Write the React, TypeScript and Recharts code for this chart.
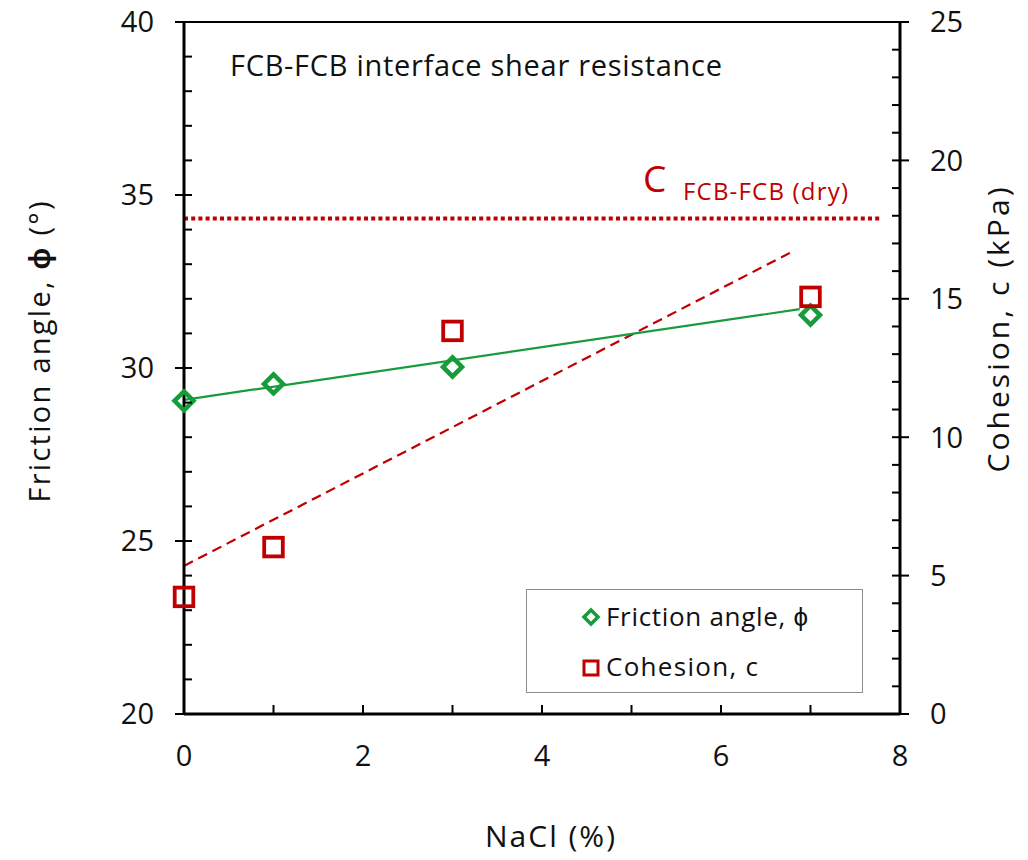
import React from 'react';
import {
  ComposedChart,
  Line,
  Scatter,
  XAxis,
  YAxis,
  ReferenceLine,
} from 'recharts';

// measured points
const nacl = [0, 1, 3, 7];
const frictionAngle = [29.05, 29.54, 30.03, 31.53];
const cohesion = [4.23, 6.03, 13.84, 15.07];

// trend lines (end points)
const frictionFitX = [0, 6.88];
const frictionFitY = [29.08, 31.7];
const cohesionFitX = [0, 6.83];
const cohesionFitY = [5.35, 16.76];

// dry reference cohesion
const dryCohesionX = [0, 7.8];
const dryCohesion = 17.9;

const xTicks = [0, 1, 2, 3, 4, 5, 6, 7, 8];
const leftTicks = [20, 21, 22, 23, 24, 25, 26, 27, 28, 29, 30, 31, 32, 33, 34, 35, 36, 37, 38, 39, 40];
const rightTicks = [0, 1, 2, 3, 4, 5, 6, 7, 8, 9, 10, 11, 12, 13, 14, 15, 16, 17, 18, 19, 20, 21, 22, 23, 24, 25];

const GREEN = '#179B3B';
const RED = '#C00000';
const FONT = '"Open Sans", sans-serif';
const TICK_SIZE = 8;
const TICK_MARGIN = 22;
const X_TICK_MARGIN = 34;

const frictionPts = nacl.map((x, i) => ({ x, y: frictionAngle[i] }));
const cohesionPts = nacl.map((x, i) => ({ x, y: cohesion[i] }));
const frictionFit = frictionFitX.map((x, i) => ({ x, y: frictionFitY[i] }));
const cohesionFit = cohesionFitX.map((x, i) => ({ x, y: cohesionFitY[i] }));
const dryLine = dryCohesionX.map((x) => ({ x, y: dryCohesion }));

function LeftTick(props: any) {
  const { x, y, payload } = props;
  const axisX = x + TICK_SIZE + TICK_MARGIN;
  const major = payload.value % 5 === 0;
  return (
    <g>
      <line x1={axisX} x2={axisX + 8} y1={y} y2={y} stroke="#000" strokeWidth={2} />
      {major && (
        <>
          <line x1={axisX - 9} x2={axisX} y1={y} y2={y} stroke="#000" strokeWidth={2} />
          <text x={x} y={y} dy="0.36em" textAnchor="end" fontSize={29} fill="#111" fontFamily={FONT}>
            {payload.value}
          </text>
        </>
      )}
    </g>
  );
}

function RightTick(props: any) {
  const { x, y, payload } = props;
  const axisX = x - TICK_SIZE - TICK_MARGIN;
  const major = payload.value % 5 === 0;
  return (
    <g>
      <line x1={axisX - 8} x2={axisX} y1={y} y2={y} stroke="#000" strokeWidth={2} />
      {major && (
        <>
          <line x1={axisX} x2={axisX + 9} y1={y} y2={y} stroke="#000" strokeWidth={2} />
          <text x={x} y={y} dy="0.36em" textAnchor="start" fontSize={29} fill="#111" fontFamily={FONT}>
            {payload.value}
          </text>
        </>
      )}
    </g>
  );
}

function BottomTick(props: any) {
  const { x, y, payload } = props;
  const axisY = y - TICK_SIZE - X_TICK_MARGIN;
  return (
    <g>
      <line x1={x} x2={x} y1={axisY - 9} y2={axisY} stroke="#000" strokeWidth={2} />
      {payload.value % 2 === 0 && (
        <text x={x} y={y} dy="0.36em" textAnchor="middle" fontSize={29} fill="#111" fontFamily={FONT}>
          {payload.value}
        </text>
      )}
    </g>
  );
}

function Diamond(props: any) {
  const { cx, cy } = props;
  const r = 9.5;
  return (
    <path
      d={`M${cx},${cy - r}L${cx + r},${cy}L${cx},${cy + r}L${cx - r},${cy}Z`}
      fill="none"
      stroke={GREEN}
      strokeWidth={4.5}
    />
  );
}

function Square(props: any) {
  const { cx, cy } = props;
  const h = 9.3;
  return <rect x={cx - h} y={cy - h} width={2 * h} height={2 * h} fill="none" stroke={RED} strokeWidth={3.8} />;
}

// the wrapper cancels the body margin so chart pixels equal page pixels
export default function App() {
  return (
    <div style={{ position: 'relative', width: 1028, height: 860, margin: '-8px 0 0 -8px', fontFamily: FONT }}>
      <ComposedChart width={1028} height={860} margin={{ top: 22, right: 28, bottom: 86, left: 84 }}>
        <XAxis
          type="number"
          dataKey="x"
          domain={[0, 8]}
          ticks={xTicks}
          interval={0}
          height={60}
          tickSize={TICK_SIZE}
          tickMargin={X_TICK_MARGIN}
          tickLine={false}
          axisLine={{ stroke: '#000', strokeWidth: 3 }}
          tick={BottomTick}
        />
        <YAxis
          yAxisId="left"
          type="number"
          domain={[20, 40]}
          ticks={leftTicks}
          interval={0}
          width={100}
          tickSize={TICK_SIZE}
          tickMargin={TICK_MARGIN}
          tickLine={false}
          axisLine={{ stroke: '#000', strokeWidth: 3 }}
          tick={LeftTick}
          allowDataOverflow
        />
        <YAxis
          yAxisId="right"
          orientation="right"
          type="number"
          domain={[0, 25]}
          ticks={rightTicks}
          interval={0}
          width={100}
          tickSize={TICK_SIZE}
          tickMargin={TICK_MARGIN}
          tickLine={false}
          axisLine={{ stroke: '#000', strokeWidth: 3 }}
          tick={RightTick}
          allowDataOverflow
        />
        <ReferenceLine yAxisId="left" y={40} stroke="#000" strokeWidth={2} />

        <Line
          yAxisId="right"
          data={dryLine}
          dataKey="y"
          stroke={RED}
          strokeWidth={4}
          strokeDasharray="4 3.2"
          dot={false}
          activeDot={false}
          isAnimationActive={false}
        />
        <Line
          yAxisId="right"
          data={cohesionFit}
          dataKey="y"
          stroke={RED}
          strokeWidth={2.2}
          strokeDasharray="10 6"
          dot={false}
          activeDot={false}
          isAnimationActive={false}
        />
        <Line
          yAxisId="left"
          data={frictionFit}
          dataKey="y"
          stroke={GREEN}
          strokeWidth={2.2}
          dot={false}
          activeDot={false}
          isAnimationActive={false}
        />
        <Scatter yAxisId="left" data={frictionPts} dataKey="y" shape={Diamond} isAnimationActive={false} />
        <Scatter yAxisId="right" data={cohesionPts} dataKey="y" shape={Square} isAnimationActive={false} />
      </ComposedChart>

      <svg
        width={1028}
        height={860}
        style={{ position: 'absolute', left: 0, top: 0, pointerEvents: 'none' }}
        fontFamily={FONT}
      >
        <text x={230} y={76} fontSize={29} fill="#111" textLength={492} lengthAdjust="spacing">
          FCB-FCB interface shear resistance
        </text>
        <text x={643} y={192} fontSize={37} fill={RED}>
          C
        </text>
        <text x={683} y={200} fontSize={24} fill={RED} textLength={165} lengthAdjust="spacing">
          FCB-FCB (dry)
        </text>
        <text x={485} y={847} fontSize={30} fill="#111" textLength={130} lengthAdjust="spacing">
          NaCl (%)
        </text>
        <text
          x={38}
          y={352}
          fontSize={29}
          fill="#111"
          textAnchor="middle"
          dominantBaseline="central"
          transform="rotate(-90 38 352)"
          textLength={301}
          lengthAdjust="spacing"
        >
          Friction angle, <tspan fontWeight="bold">ϕ</tspan> (°)
        </text>
        <text
          x={997}
          y={330}
          fontSize={30}
          fill="#111"
          textAnchor="middle"
          dominantBaseline="central"
          transform="rotate(-90 997 330)"
          textLength={285}
          lengthAdjust="spacing"
        >
          Cohesion, c (kPa)
        </text>
      </svg>

      <div
        style={{
          position: 'absolute',
          left: 526,
          top: 589,
          width: 337,
          height: 104,
          boxSizing: 'border-box',
          border: '1.5px solid #8c8c8c',
          background: '#fff',
        }}
      >
        <svg width={334} height={101} fontFamily={FONT}>
          <path d="M64,20L71,27L64,34L57,27Z" fill="none" stroke={GREEN} strokeWidth={3.5} />
          <text x={79} y={36} fontSize={26} fill="#111" textLength={202} lengthAdjust="spacing">
            Friction angle, ϕ
          </text>
          <rect x={57} y={71} width={14} height={14} fill="none" stroke={RED} strokeWidth={3} />
          <text x={79} y={86} fontSize={26} fill="#111" textLength={152} lengthAdjust="spacing">
            Cohesion, c
          </text>
        </svg>
      </div>
    </div>
  );
}
